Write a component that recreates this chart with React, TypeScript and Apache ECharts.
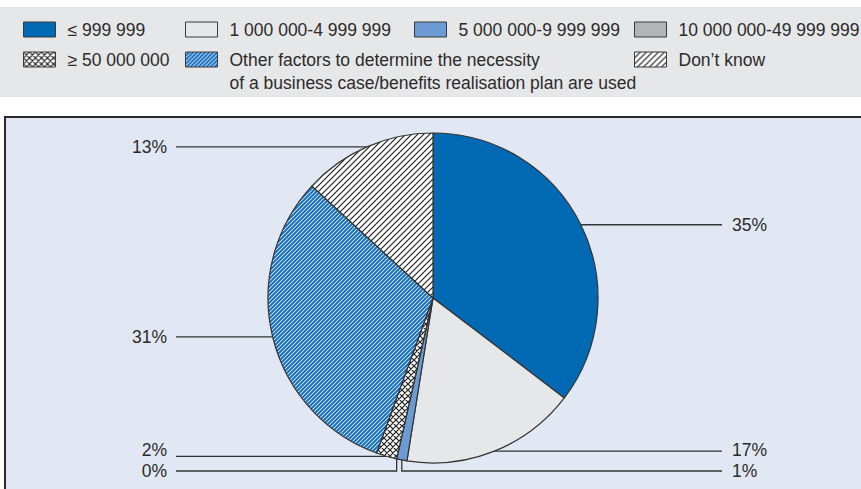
import React, { useEffect, useRef } from 'react';
import * as echarts from 'echarts';

// ---------- DATA ----------
const categories: string[] = [
  '≤ 999 999',
  '1 000 000-4 999 999',
  '5 000 000-9 999 999',
  '10 000 000-49 999 999',
  '≥ 50 000 000',
  'Other factors to determine the necessity of a business case/benefits realisation plan are used',
  'Don’t know',
];
const values: number[] = [35, 17, 1, 0, 2, 31, 13];
const valueSuffix = '%';

// ---------- STYLE / LAYOUT ----------
const FONT = "'Liberation Sans', Arial, sans-serif";
const FONT_SIZE = 17.5;
const TEXT = '#2b2b2b';
const LINE = '#333333';
const CX = 433;
const CY = 298;
const R = 165;
const RIGHT_COUNT = 3; // first slices labelled on the right
const LINE_END_RIGHT = 722;
const LINE_END_LEFT = 176;
const LABEL_X_RIGHT = 732;
const LABEL_X_LEFT = 167;
const MIN_GAP = 16;
const TEXT_GAP = 21;
const DROP = 8;

const legendPos = [
  { left: 23, top: 18 },
  { left: 185, top: 18 },
  { left: 414, top: 18 },
  { left: 634, top: 18 },
  { left: 23, top: 48 },
  { left: 185, top: 25 },
  { left: 634, top: 48 },
];

function makeTile(p: number, lw: number, color: string, bg: string, cross: boolean) {
  const c = document.createElement('canvas');
  c.width = p;
  c.height = p;
  const ctx = c.getContext('2d')!;
  ctx.fillStyle = bg;
  ctx.fillRect(0, 0, p, p);
  ctx.strokeStyle = color;
  ctx.lineWidth = lw;
  ctx.beginPath();
  // "/" lines
  ctx.moveTo(-1, p + 1);
  ctx.lineTo(p + 1, -1);
  ctx.moveTo(-1, 1);
  ctx.lineTo(1, -1);
  ctx.moveTo(p - 1, p + 1);
  ctx.lineTo(p + 1, p - 1);
  if (cross) {
    ctx.moveTo(-1, -1);
    ctx.lineTo(p + 1, p + 1);
    ctx.moveTo(p - 1, -1);
    ctx.lineTo(p + 1, 1);
    ctx.moveTo(-1, p - 1);
    ctx.lineTo(1, p + 1);
  }
  ctx.stroke();
  return c;
}

function computeLabels() {
  const total = values.reduce((a, b) => a + b, 0);
  let cum = 0;
  const info = values.map((v, i) => {
    const mid = ((cum + v / 2) / total) * Math.PI * 2;
    cum += v;
    const px = CX + R * Math.sin(mid);
    const py = CY - R * Math.cos(mid);
    return { i, px, py, side: i < RIGHT_COUNT ? 'right' : 'left', y: py, textY: py, dropped: false };
  });
  (['right', 'left'] as const).forEach((side) => {
    const arr = info.filter((d) => d.side === side).sort((a, b) => a.py - b.py);
    let prev = -Infinity;
    arr.forEach((d) => {
      if (d.py - prev < MIN_GAP) {
        d.y = CY + R + DROP;
        d.dropped = true;
      }
      d.textY = d.y;
      prev = d.y;
    });
    // nudge texts apart where lines are too close for the text height
    for (let k = arr.length - 2; k >= 0; k--) {
      const gap = arr[k + 1].textY - arr[k].textY;
      if (gap < TEXT_GAP) arr[k].textY -= TEXT_GAP - gap;
    }
  });
  return info;
}

export default function App() {
  const ref = useRef<HTMLDivElement>(null);
  useEffect(() => {
    if (!ref.current) return;
    const chart = echarts.init(ref.current, undefined, { renderer: 'svg' });

    const blueStripe = { image: makeTile(4, 2.1, '#1870c0', '#ffffff', false), repeat: 'repeat' };
    const blackStripe = { image: makeTile(6, 1.2, '#222222', '#ffffff', false), repeat: 'repeat' };
    const crossHatch = { image: makeTile(6, 1.2, '#222222', '#ffffff', true), repeat: 'repeat' };
    const fills: any[] = ['#0069b4', '#e6e7e8', '#6b9bd2', '#b3b4b6', crossHatch, blueStripe, blackStripe];

    const labels = computeLabels();

    const legends = categories.map((name, i) => ({
      data: [name],
      left: legendPos[i].left,
      top: legendPos[i].top,
      padding: 0,
      itemWidth: 32,
      itemHeight: 15,
      icon: 'rect',
      selectedMode: false,
      itemStyle: { borderColor: '#3a3a3a', borderWidth: 1 },
      textStyle: { fontFamily: FONT, fontSize: FONT_SIZE, color: TEXT, lineHeight: 23, padding: [0, 0, 0, 7] },
      formatter: (n: string) => (i === 5 ? '\n' + n.replace(' of a ', '\nof a ') : n),
    }));

    chart.setOption({
      animation: false,
      backgroundColor: '#ffffff',
      graphic: [
        {
          type: 'rect',
          z: -10,
          silent: true,
          shape: { x: 0, y: 7, width: 861, height: 90 },
          style: { fill: '#e6e7e8' },
        },
        {
          type: 'rect',
          z: -10,
          silent: true,
          shape: { x: 5, y: 117, width: 880, height: 400 },
          style: { fill: '#e1e8f3', stroke: '#2a2a2a', lineWidth: 2 },
        },
      ],
      legend: legends,
      series: [
        {
          type: 'pie',
          center: [CX, CY],
          radius: R,
          startAngle: 90,
          clockwise: true,
          avoidLabelOverlap: false,
          emphasis: { disabled: true },
          itemStyle: { borderColor: LINE, borderWidth: 1.2 },
          label: {
            show: true,
            position: 'outside',
            formatter: (p: any) => `${p.value}${valueSuffix}`,
            fontFamily: FONT,
            fontSize: FONT_SIZE,
            color: TEXT,
          },
          labelLine: { show: true, length: 10, length2: 10, lineStyle: { color: LINE, width: 1.3 } },
          labelLayout: (params: any) => {
            const d = labels[params.dataIndex];
            const endX = d.side === 'right' ? LINE_END_RIGHT : LINE_END_LEFT;
            const pts = d.dropped
              ? [[d.px, d.py], [d.px, d.y], [endX, d.y]]
              : [[d.px, d.py], [d.px, d.py], [endX, d.y]];
            return {
              x: d.side === 'right' ? LABEL_X_RIGHT : LABEL_X_LEFT,
              y: d.textY,
              align: d.side === 'right' ? 'left' : 'right',
              verticalAlign: 'middle',
              labelLinePoints: pts,
            };
          },
          data: categories.map((name, i) => ({ name, value: values[i], itemStyle: { color: fills[i] } })),
        },
      ],
    });
    return () => chart.dispose();
  }, []);
  return <div ref={ref} style={{ position: 'fixed', left: 0, top: 0, width: 861, height: 489 }} />;
}
